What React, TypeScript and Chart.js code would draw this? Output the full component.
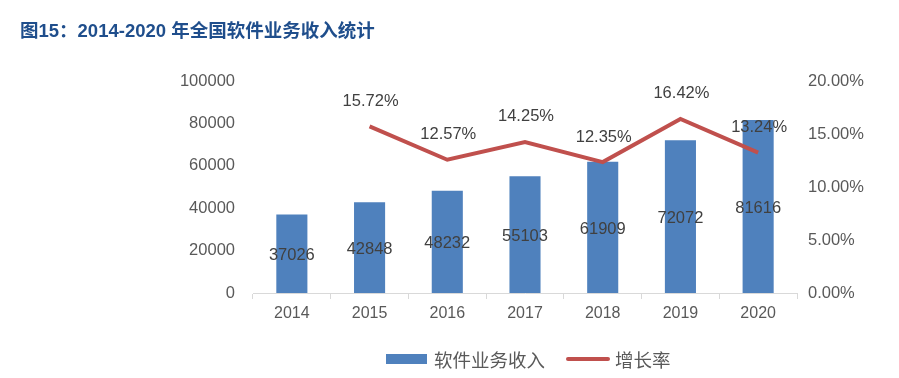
import React, { useEffect, useRef } from "react";
import { Chart, registerables } from "chart.js";

Chart.register(...registerables);

const years = ["2014", "2015", "2016", "2017", "2018", "2019", "2020"];
const revenue = [37026, 42848, 48232, 55103, 61909, 72072, 81616];
const growth = [null, 15.72, 12.57, 14.25, 12.35, 16.42, 13.24];
const leftTicks = [0, 20000, 40000, 60000, 80000, 100000];
const rightTicks = [0, 5, 10, 15, 20];

const BAR = "#4F81BD";
const LINE = "#C0504D";
const TEXT = "#595959";
const LABEL = "#404040";
const FONT = "'Liberation Sans', 'Noto Sans CJK SC', sans-serif";

const labelPlugin = {
  id: "labels",
  afterDatasetsDraw(chart: any) {
    const ctx = chart.ctx;
    ctx.save();
    ctx.font = `16.5px ${FONT}`;
    ctx.fillStyle = LABEL;
    ctx.textAlign = "center";
    ctx.textBaseline = "middle";
    const barMeta = chart.getDatasetMeta(0);
    barMeta.data.forEach((el: any, i: number) => {
      const y = (el.y + el.base) / 2;
      ctx.fillText(String(revenue[i]), el.x, y + 2);
    });
    const lineMeta = chart.getDatasetMeta(1);
    lineMeta.data.forEach((el: any, i: number) => {
      const v = growth[i];
      if (v == null) return;
      ctx.fillText(v.toFixed(2) + "%", el.x + 1, el.y - 25);
    });
    ctx.restore();
  },
};

export default function App() {
  const ref = useRef<HTMLCanvasElement>(null);
  useEffect(() => {
    const chart = new Chart(ref.current!, {
      type: "bar",
      data: {
        labels: years,
        datasets: [
          {
            type: "bar",
            label: "软件业务收入",
            data: revenue,
            backgroundColor: BAR,
            categoryPercentage: 1,
            barPercentage: 0.4,
            yAxisID: "y",
            order: 2,
          },
          {
            type: "line",
            label: "增长率",
            data: growth as any,
            borderColor: LINE,
            backgroundColor: LINE,
            borderWidth: 4,
            pointRadius: 0,
            tension: 0,
            yAxisID: "y1",
            order: 1,
          } as any,
        ],
      },
      options: {
        animation: false,
        responsive: false,
        maintainAspectRatio: false,
        layout: { padding: { top: 81, left: 0, right: 0, bottom: 0 } },
        plugins: { legend: { display: false }, tooltip: { enabled: false } },
        scales: {
          x: {
            grid: {
              offset: true,
              drawOnChartArea: false,
              tickLength: 6,
              color: "#D9D9D9",
            },
            border: { color: "#D9D9D9", width: 1 },
            ticks: { color: TEXT, font: { size: 16, family: FONT }, padding: 5 },
            afterFit: (s: any) => {
              s.height = 85;
            },
          },
          y: {
            position: "left",
            min: 0,
            max: 100000,
            afterBuildTicks: (s: any) => {
              s.ticks = leftTicks.map((v) => ({ value: v }));
            },
            grid: { display: false },
            border: { display: false },
            ticks: {
              color: TEXT,
              font: { size: 16.5, family: FONT },
              padding: 10,
              callback: (v: any) => String(v),
            },
            afterFit: (s: any) => {
              s.width = 253;
            },
          },
          y1: {
            position: "right",
            min: 0,
            max: 20,
            afterBuildTicks: (s: any) => {
              s.ticks = rightTicks.map((v) => ({ value: v }));
            },
            grid: { display: false },
            border: { display: false },
            ticks: {
              color: TEXT,
              font: { size: 16.5, family: FONT },
              padding: 3,
              callback: (v: any) => Number(v).toFixed(2) + "%",
            },
            afterFit: (s: any) => {
              s.width = 102;
            },
          },
        },
      },
      plugins: [labelPlugin],
    });
    return () => chart.destroy();
  }, []);

  return (
    <div
      style={{
        position: "absolute",
        left: 0,
        top: 0,
        width: 899,
        height: 378,
        background: "#fff",
        fontFamily: FONT,
      }}
    >
      <canvas ref={ref} width={899} height={378} style={{ position: "absolute", left: 0, top: 0 }} />
      <div
        style={{
          position: "absolute",
          left: 20,
          top: 16,
          fontSize: 18.5,
          fontWeight: "bold",
          color: "#1F4E8C",
          fontFamily: "'Liberation Sans', 'Noto Sans CJK SC', sans-serif",
          whiteSpace: "nowrap",
        }}
      >
        图15：2014-2020 年全国软件业务收入统计
      </div>
      <div
        style={{
          position: "absolute",
          left: 386,
          top: 346,
          height: 26,
          display: "flex",
          alignItems: "center",
          fontSize: 18.5,
          color: TEXT,
          fontFamily: "'Noto Sans CJK SC', sans-serif",
          whiteSpace: "nowrap",
        }}
      >
        <span style={{ display: "inline-block", width: 41, height: 10, background: BAR, marginRight: 7 }} />
        <span>软件业务收入</span>
        <span
          style={{
            display: "inline-block",
            width: 44,
            height: 4,
            borderRadius: 2,
            background: LINE,
            marginLeft: 21,
            marginRight: 5,
          }}
        />
        <span>增长率</span>
      </div>
    </div>
  );
}
